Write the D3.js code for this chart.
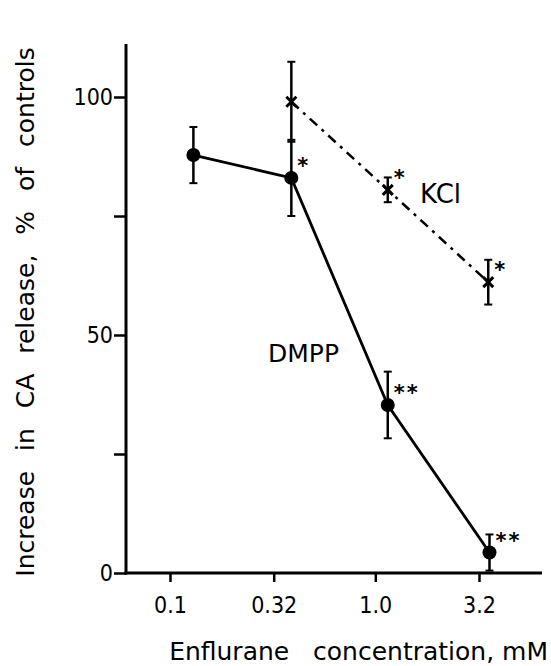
<!DOCTYPE html>
<html>
<head>
<meta charset="utf-8">
<script src="https://cdn.jsdelivr.net/npm/d3@7"></script>
<style>
  html, body { margin: 0; padding: 0; background: #fff; }
  svg { display: block; }
  text { fill: #000; }
</style>
</head>
<body>
<svg id="chart" width="551" height="666"></svg>
<script>
// ---- data ----
const xTickValues = [0.1, 0.32, 1.0, 3.2];
const xTickLabels = ["0.1", "0.32", "1.0", "3.2"];
const yTickValues = [0, 25, 50, 75, 100];
const yTickLabels = ["0", "", "50", "", "100"];

const dmppConc = [0.13, 0.39, 1.15, 3.6];
const dmppMean = [87.8, 83.0, 35.3, 4.3];
const dmppErr  = [5.9, 8.0, 7.0, 3.8];
const dmppSig  = ["", "*", "**", "**"];

const kclConc = [0.39, 1.15, 3.55];
const kclMean = [99.0, 80.5, 61.1];
const kclErr  = [8.4, 2.6, 4.7];
const kclSig  = ["", "*", "*"];

const xTitle = "Enflurane\u00a0\u00a0 concentration, mM";
const yTitle = "Increase in CA release, % of controls";

// ---- layout ----
const svg = d3.select("#chart");
const axisX0 = 126, axisX1 = 542;   // x-axis line extent
const axisY0 = 573, axisYTop = 44;  // y-axis line extent

const x = d3.scaleLog().domain([0.1, 3.2]).range([170, 479]);
const y = d3.scaleLinear().domain([0, 100]).range([573, 97]);

const tickFont = "'DejaVu Sans Condensed', 'DejaVu Sans', sans-serif";
const labelFont = "'DejaVu Sans', sans-serif";

// y axis
const yAxis = d3.axisLeft(y)
  .tickValues(yTickValues)
  .tickFormat((d, i) => yTickLabels[i])
  .tickSize(12)
  .tickPadding(1);
const gy = svg.append("g").attr("transform", `translate(${axisX0},0)`).call(yAxis);
gy.select(".domain").remove();
gy.selectAll(".tick line").attr("stroke", "#000").attr("stroke-width", 2.5);
gy.selectAll(".tick text")
  .attr("font-family", tickFont).attr("font-size", 23)
  .attr("font-stretch", "condensed").attr("fill", "#000");
svg.append("line")
  .attr("x1", axisX0).attr("x2", axisX0)
  .attr("y1", axisY0 + 1.5).attr("y2", axisYTop)
  .attr("stroke", "#000").attr("stroke-width", 3);

// x axis
const xAxis = d3.axisBottom(x)
  .tickValues(xTickValues)
  .tickFormat((d, i) => xTickLabels[i])
  .tickSize(9)
  .tickPadding(15);
const gx = svg.append("g").attr("transform", `translate(0,${axisY0})`).call(xAxis);
gx.select(".domain").remove();
gx.selectAll(".tick line").attr("stroke", "#000").attr("stroke-width", 2.5);
gx.selectAll(".tick text")
  .attr("font-family", tickFont).attr("font-size", 23)
  .attr("font-stretch", "condensed").attr("fill", "#000");
svg.append("line")
  .attr("x1", axisX0 - 1.5).attr("x2", axisX1)
  .attr("y1", axisY0).attr("y2", axisY0)
  .attr("stroke", "#000").attr("stroke-width", 3);

// ---- series ----
const dmpp = dmppConc.map((c, i) => ({c, m: dmppMean[i], e: dmppErr[i], s: dmppSig[i]}));
const kcl = kclConc.map((c, i) => ({c, m: kclMean[i], e: kclErr[i], s: kclSig[i]}));

const line = d3.line().x(d => x(d.c)).y(d => y(d.m));

function errorBars(data, cls) {
  const g = svg.append("g").attr("class", cls);
  data.forEach(d => {
    const lo = Math.max(0, d.m - d.e), hi = d.m + d.e;
    g.append("line").attr("x1", x(d.c)).attr("x2", x(d.c))
      .attr("y1", y(lo)).attr("y2", y(hi))
      .attr("stroke", "#000").attr("stroke-width", 2.5);
    [lo, hi].forEach(v => {
      g.append("line").attr("x1", x(d.c) - 4).attr("x2", x(d.c) + 4)
        .attr("y1", y(v)).attr("y2", y(v))
        .attr("stroke", "#000").attr("stroke-width", 2);
    });
  });
}

// KCl dash-dot line
svg.append("path").datum(kcl)
  .attr("d", line).attr("fill", "none")
  .attr("stroke", "#000").attr("stroke-width", 2.5)
  .attr("stroke-dasharray", "10,6,3,6");
errorBars(kcl, "kcl-err");
svg.append("g").selectAll("path.xmark").data(kcl).join("path")
  .attr("d", d => {
    const cx = x(d.c), cy = y(d.m), r = 5;
    return `M${cx - r},${cy - r}L${cx + r},${cy + r}M${cx + r},${cy - r}L${cx - r},${cy + r}`;
  })
  .attr("stroke", "#000").attr("stroke-width", 3).attr("fill", "none");

// DMPP solid line
svg.append("path").datum(dmpp)
  .attr("d", line).attr("fill", "none")
  .attr("stroke", "#000").attr("stroke-width", 2.8);
errorBars(dmpp, "dmpp-err");
svg.append("g").selectAll("circle").data(dmpp).join("circle")
  .attr("cx", d => x(d.c)).attr("cy", d => y(d.m)).attr("r", 7)
  .attr("fill", "#000");

// significance asterisks
svg.append("g").selectAll("text").data(dmpp.concat(kcl).filter(d => d.s))
  .join("text")
  .attr("x", d => x(d.c) + 6)
  .attr("y", d => y(d.m) - 5)
  .attr("font-family", labelFont).attr("font-size", 21)
  .attr("font-weight", "bold")
  .attr("letter-spacing", 2)
  .text(d => d.s);

// series labels
svg.append("text").attr("x", 420).attr("y", 203)
  .attr("font-family", labelFont).attr("font-size", 26).text("KCl");
svg.append("text").attr("x", 268).attr("y", 362)
  .attr("font-family", labelFont).attr("font-size", 25).text("DMPP");

// axis titles
svg.append("text")
  .attr("x", 548).attr("y", 660)
  .attr("text-anchor", "end")
  .attr("font-family", labelFont).attr("font-size", 25)
  .text(xTitle);

svg.append("text")
  .attr("transform", "translate(34,312) rotate(-90)")
  .attr("text-anchor", "middle")
  .attr("font-family", labelFont).attr("font-size", 25)
  .attr("word-spacing", 12)
  .text(yTitle);
</script>
</body>
</html>
